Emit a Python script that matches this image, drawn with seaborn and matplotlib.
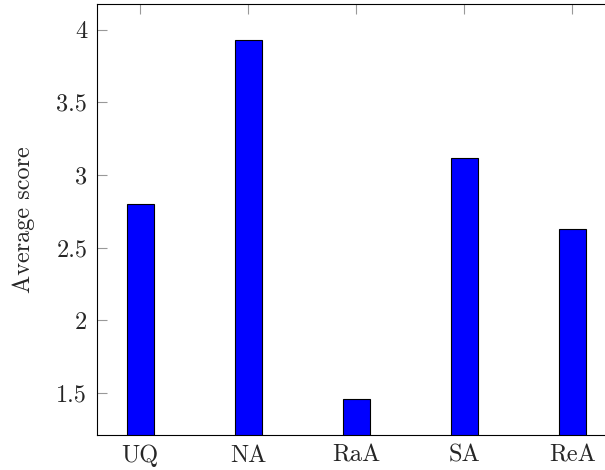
import matplotlib
matplotlib.use("Agg")
import matplotlib.pyplot as plt
import seaborn as sns
import pandas as pd

# data
methods = ["UQ", "NA", "RaA", "SA", "ReA"]
scores = [2.80, 3.93, 1.46, 3.12, 2.63]
yticks = [1.5, 2, 2.5, 3, 3.5, 4]
ytick_labels = ["1.5", "2", "2.5", "3", "3.5", "4"]

sns.set_style("ticks")
plt.rcParams["font.family"] = ["cmr10", "DejaVu Serif"]
plt.rcParams["mathtext.fontset"] = "cm"
plt.rcParams["axes.unicode_minus"] = False

df = pd.DataFrame({"method": methods, "score": scores})

fig = plt.figure(figsize=(6.05, 4.70), dpi=100)
ax = fig.add_axes([97 / 605, 35 / 470, 518.4 / 605, 431 / 470])

sns.barplot(data=df, x="method", y="score", color="#0000ff", saturation=1,
            width=0.25, edgecolor="black", linewidth=0.8, ax=ax)

ax.set_xlim(-0.4, 4.4)
ax.set_ylim(1.212, 4.177)
ax.set_yticks(yticks)
ax.set_yticklabels(ytick_labels)
ax.set_xlabel("")
ax.set_ylabel("Average score", fontsize=17.5, labelpad=15)

ax.tick_params(axis="both", direction="in", length=7, width=0.8, color="#999999",
               labelsize=17.5, top=True, right=True, pad=7)
for s in ax.spines.values():
    s.set_visible(True)
    s.set_color("black")
    s.set_linewidth(0.8)

fig.savefig("out.png", dpi=100)
